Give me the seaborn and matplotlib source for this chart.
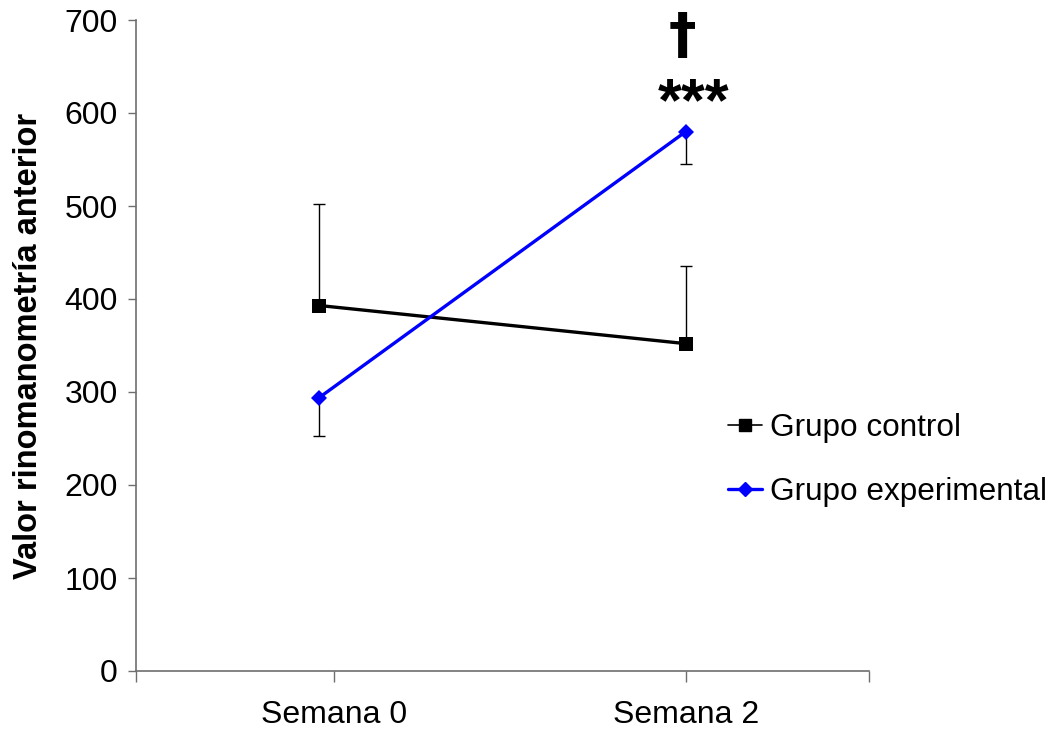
import matplotlib
matplotlib.use("Agg")
import matplotlib.pyplot as plt
from matplotlib.lines import Line2D
import numpy as np
import pandas as pd
import seaborn as sns

# Data
semanas = ["Semana 0", "Semana 2"]
grupos = ["Grupo control", "Grupo experimental"]
control = [393, 352]
control_err_up = [109, 83]
experimental = [294, 580]
experimental_err_down = [41, 35]

sns.set_theme(style="white")
plt.rcParams["font.family"] = ["Liberation Sans", "DejaVu Sans"]
plt.rcParams["text.color"] = "black"
plt.rcParams["axes.labelcolor"] = "black"
plt.rcParams["xtick.color"] = "black"
plt.rcParams["ytick.color"] = "black"

df = pd.DataFrame({
    "pos": list(range(len(semanas))) * 2,
    "valor": control + experimental,
    "grupo": [grupos[0]] * len(semanas) + [grupos[1]] * len(semanas),
})

colors = {grupos[0]: "#000000", grupos[1]: "#0000FF"}
markers = {grupos[0]: "s", grupos[1]: "D"}

fig = plt.figure(figsize=(10.61, 7.31), dpi=100)
ax = fig.add_axes([136 / 1061, 1 - 671 / 731, (869 - 136) / 1061, (671 - 20) / 731])

# One-sided error bars
pos = np.arange(len(semanas))
ax.errorbar(pos, control, yerr=[np.zeros(len(pos)), control_err_up], fmt="none",
            ecolor="black", elinewidth=1.0, capsize=4, capthick=1.0, zorder=1)
ax.errorbar(pos, experimental, yerr=[experimental_err_down, np.zeros(len(pos))], fmt="none",
            ecolor="black", elinewidth=1.0, capsize=4, capthick=1.0, zorder=1)

sns.lineplot(data=df, x="pos", y="valor", hue="grupo", style="grupo",
             palette=colors, markers=markers, dashes=False, linewidth=2.4,
             markersize=10, markeredgewidth=0, legend=False, ax=ax, zorder=3)
# Slightly smaller diamond for the experimental group
for line in ax.get_lines():
    if line.get_marker() == "D":
        line.set_markersize(8.5)

# Significance marks above Semana 2
ax.text(0.99, 682, "\u2020", ha="center", va="center", fontsize=40, fontweight="bold",
        color="black", family=["DejaVu Sans"])
ax.text(1.02, 609, "***", ha="center", va="center", fontsize=44, fontweight="bold",
        color="black")

ax.set_xlim(-0.5, 1.5)
ax.set_ylim(0, 700)
ax.set_yticks(np.arange(0, 701, 100))
ax.set_xticks([-0.5, 0.04, 1.0, 1.5])
ax.set_xticklabels(["", semanas[0], semanas[1], ""])
ax.set_xlabel("")
ax.set_ylabel("Valor rinomanometría anterior", fontsize=23.5, fontweight="bold", labelpad=15)

for side in ["top", "right"]:
    ax.spines[side].set_visible(False)
for side in ["left", "bottom"]:
    ax.spines[side].set_color("#6e6e6e")
    ax.spines[side].set_linewidth(1.2)
ax.tick_params(axis="y", which="major", direction="out", length=6, width=1, color="#6e6e6e",
               labelsize=23, pad=7, left=True, labelcolor="black")
ax.tick_params(axis="x", which="major", direction="out", length=8, width=1, color="#6e6e6e",
               labelsize=23, pad=13, bottom=True, labelcolor="black")

handles = [
    Line2D([], [], color="black", linewidth=1.2, marker="s", markersize=9),
    Line2D([], [], color="#0000FF", linewidth=2.4, marker="D", markersize=7),
]
ax.legend(handles, grupos, loc="upper left", bbox_to_anchor=(0.79, 0.416), frameon=False,
          fontsize=22.7, handlelength=1.1, handletextpad=0.25, labelspacing=1.1,
          borderaxespad=0, labelcolor="black")

fig.savefig("out.png", dpi=100)
